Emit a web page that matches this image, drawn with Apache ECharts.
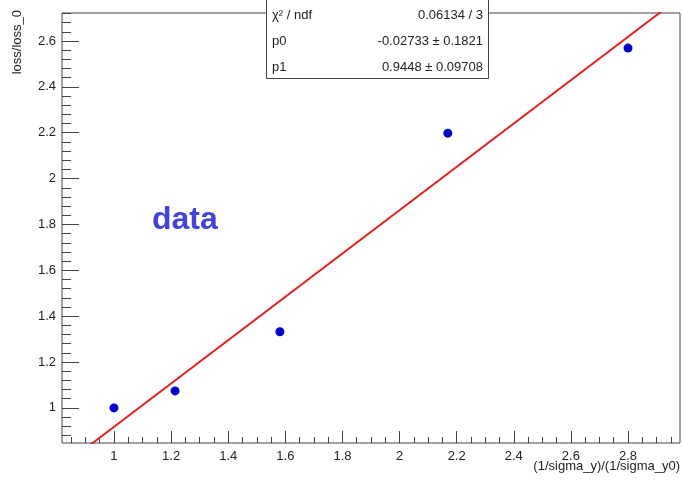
<!DOCTYPE html>
<html>
<head>
<meta charset="utf-8">
<script src="https://cdn.jsdelivr.net/npm/echarts@6/dist/echarts.min.js"></script>
<style>
  html, body { margin: 0; padding: 0; background: #fff; }
  #main { width: 683px; height: 483px; }
</style>
</head>
<body>
<div id="main"></div>
<script>
// 数据点
var xData = [1.0, 1.214, 1.581, 2.169, 2.80];
var yData = [1.0, 1.074, 1.332, 2.198, 2.569];
// 拟合参数 p0 + p1*x
var p0 = -0.02733;
var p1 = 0.9448;
// 统计框文字
var statNames = ['χ² / ndf', 'p0', 'p1'];
var statValues = ['0.06134 / 3', '-0.02733 ± 0.1821', '0.9448 ± 0.09708'];
// 坐标轴刻度
var xTicks = [1, 1.2, 1.4, 1.6, 1.8, 2, 2.2, 2.4, 2.6, 2.8];
var yTicks = [1, 1.2, 1.4, 1.6, 1.8, 2, 2.2, 2.4, 2.6];
var xMin = 0.818, xMax = 2.982;
var yMin = 0.847, yMax = 2.722;

(function () {
  var myChart = echarts.init(document.getElementById('main'));
  var font = '"Liberation Sans", Arial, sans-serif';

  // 小刻度
  var xMinor = [];
  for (var i = 17; i <= 59; i++) xMinor.push(+(i * 0.05).toFixed(2));
  var yMinor = [];
  for (var j = 22; j <= 68; j++) yMinor.push(+(j * 0.04).toFixed(2));

  var points = xData.map(function (x, k) { return [x, yData[k]]; });
  var fit = [[xMin, p0 + p1 * xMin], [xMax, p0 + p1 * xMax]];

  var statGraphics = [{
    type: 'rect',
    shape: { x: 266.5, y: -2, width: 222, height: 80.5 },
    style: { fill: '#fff', stroke: '#444', lineWidth: 1 },
    z: 100
  }];
  statNames.forEach(function (n, k) {
    statGraphics.push({
      type: 'text', x: 272, y: 15 + k * 26, z: 101,
      style: { text: n, font: '13px ' + font, fill: '#222', textVerticalAlign: 'middle' }
    });
    statGraphics.push({
      type: 'text', x: 483, y: 15 + k * 26, z: 101,
      style: { text: statValues[k], font: '13px ' + font, fill: '#222', textAlign: 'right', textVerticalAlign: 'middle' }
    });
  });

  var option = {
    animation: false,
    grid: {
      left: 62, top: 13, right: 3, bottom: 40,
      show: true, borderColor: '#444', borderWidth: 1, backgroundColor: '#fff'
    },
    xAxis: [{
      type: 'value', min: xMin, max: xMax,
      axisLine: { show: false },
      splitLine: { show: false },
      axisTick: { inside: true, length: 12, lineStyle: { color: '#444' }, customValues: xTicks },
      axisLabel: { customValues: xTicks, fontSize: 13, fontFamily: font, color: '#222', margin: 7 }
    }, {
      type: 'value', min: xMin, max: xMax, position: 'bottom',
      axisLine: { show: false },
      splitLine: { show: false },
      axisTick: { inside: true, length: 6, lineStyle: { color: '#444' }, customValues: xMinor },
      axisLabel: { show: false }
    }],
    yAxis: [{
      type: 'value', min: yMin, max: yMax,
      axisLine: { show: false },
      splitLine: { show: false },
      axisTick: { show: true, inside: true, length: 17, lineStyle: { color: '#444' }, customValues: yTicks },
      axisLabel: { customValues: yTicks, fontSize: 13, fontFamily: font, color: '#222', margin: 6 }
    }, {
      type: 'value', min: yMin, max: yMax, position: 'left',
      axisLine: { show: false },
      splitLine: { show: false },
      axisTick: { show: true, inside: true, length: 9, lineStyle: { color: '#444' }, customValues: yMinor },
      axisLabel: { show: false }
    }],
    series: [{
      type: 'line',
      data: fit,
      showSymbol: false,
      clip: true,
      lineStyle: { color: '#e02424', width: 2 },
      z: 2
    }, {
      type: 'scatter',
      data: points,
      symbolSize: 9,
      itemStyle: { color: '#0000c8', opacity: 1 },
      z: 3
    }],
    graphic: statGraphics.concat([{
      type: 'text', x: 152, y: 220, z: 50,
      style: { text: 'data', font: 'bold 32px ' + font, fill: '#4343d8', textVerticalAlign: 'middle' }
    }, {
      type: 'text', x: 17, y: 10, rotation: Math.PI / 2, z: 50,
      style: { text: 'loss/loss_0', font: '13px ' + font, fill: '#222', textAlign: 'right', textVerticalAlign: 'middle' }
    }, {
      type: 'text', x: 680, y: 466, z: 50,
      style: { text: '(1/sigma_y)/(1/sigma_y0)', font: '13px ' + font, fill: '#222', textAlign: 'right', textVerticalAlign: 'middle' }
    }])
  };

  myChart.setOption(option);
  window.addEventListener('resize', function () {
    myChart.resize();
  });
})();
</script>
</body>
</html>
